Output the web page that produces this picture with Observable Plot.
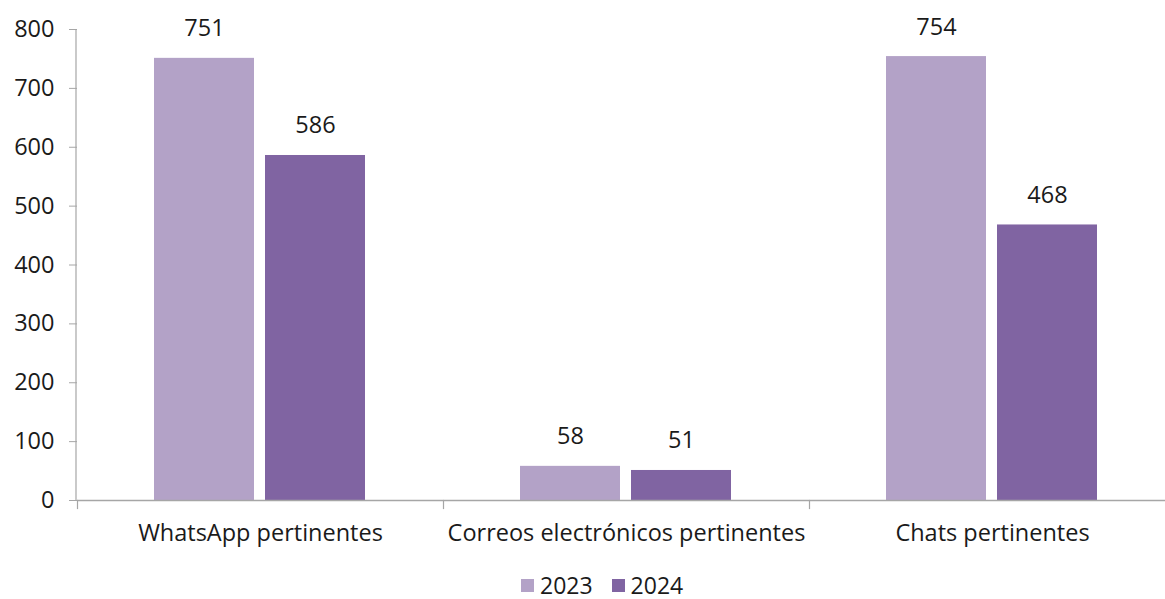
<!DOCTYPE html>
<html>
<head>
<meta charset="utf-8">
<script src="https://cdn.jsdelivr.net/npm/d3@7"></script>
<script src="https://cdn.jsdelivr.net/npm/@observablehq/plot@0.6"></script>
<style>
  html, body { margin: 0; padding: 0; background: #fff; overflow: hidden; width: 1165px; height: 599px; }
  #chart { position: absolute; left: 0; top: 0; width: 1176px; }
  #chart svg { max-width: none !important; }
  #legend { position: absolute; left: 521px; top: 575px; height: 20px; display: flex; align-items: center;
            font-family: "Open Sans", sans-serif; font-size: 23px; color: #1a1a1a; }
  #legend .item { display: flex; align-items: center; margin-right: 19px; }
  #legend .sw { width: 13px; height: 13px; margin-right: 6px; }
  #legend span { display: inline-block; line-height: 20px; height: 20px; }
</style>
</head>
<body>
<div id="chart"></div>
<div id="legend"></div>
<script>
const categories = ["WhatsApp pertinentes", "Correos electrónicos pertinentes", "Chats pertinentes"];
const years = ["2023", "2024"];
const values2023 = [751, 58, 754];
const values2024 = [586, 51, 468];
const colors = ["#b3a2c7", "#8064a2"];
const yTicks = [0, 100, 200, 300, 400, 500, 600, 700, 800];

const data = categories.flatMap((c, i) => [
  {category: c, year: years[0], value: values2023[i]},
  {category: c, year: years[1], value: values2024[i]}
]);

const font = "'Open Sans', sans-serif";
const axisColor = "#a6a6a6";
const textColor = "#1a1a1a";

const chart = Plot.plot({
  width: 1176,
  height: 560,
  marginLeft: 76,
  marginRight: 0.5,
  marginTop: 29,
  marginBottom: 60,
  style: {fontFamily: font, fontSize: "23px", color: textColor, background: "white", overflow: "visible", maxWidth: "none"},
  fx: {domain: categories, padding: 0, label: null},
  x: {domain: years, axis: null, paddingInner: 0.098, paddingOuter: 0.685},
  y: {domain: [0, 800], label: null},
  color: {domain: years, range: colors},
  marks: [
    Plot.axisY(yTicks, {tickSize: 8, tickPadding: 15, stroke: axisColor, fill: textColor, label: null, fontSize: 23.5}),
    Plot.barY(data, {fx: "category", x: "year", y: "value", fill: "year"}),
    Plot.ruleY([0], {stroke: axisColor, strokeWidth: 1.5}),
    Plot.frame({anchor: "left", stroke: axisColor, strokeWidth: 1.2, insetTop: 471, insetBottom: -8}),
    Plot.text(data, {fx: "category", x: "year", y: "value", text: d => String(d.value),
      lineAnchor: "bottom", dy: -22, fill: textColor, fontSize: 23.5}),
    Plot.axisFx({anchor: "bottom", tickSize: 0, tickPadding: 24, label: null, fill: textColor, fontSize: 23.5})
  ]
});
document.getElementById("chart").appendChild(chart);

// y axis line, placed from the y scale range and the left margin
const yr = chart.scale("y").range;
d3.select(chart).append("line")
  .attr("x1", 76).attr("x2", 76)
  .attr("y1", Math.min(...yr)).attr("y2", Math.max(...yr))
  .attr("stroke", axisColor).attr("stroke-width", 1.2);

const legend = d3.select("#legend");
years.forEach((y, i) => {
  const item = legend.append("div").attr("class", "item");
  item.append("div").attr("class", "sw").style("background", colors[i]);
  item.append("span").text(y);
});
</script>
</body>
</html>
